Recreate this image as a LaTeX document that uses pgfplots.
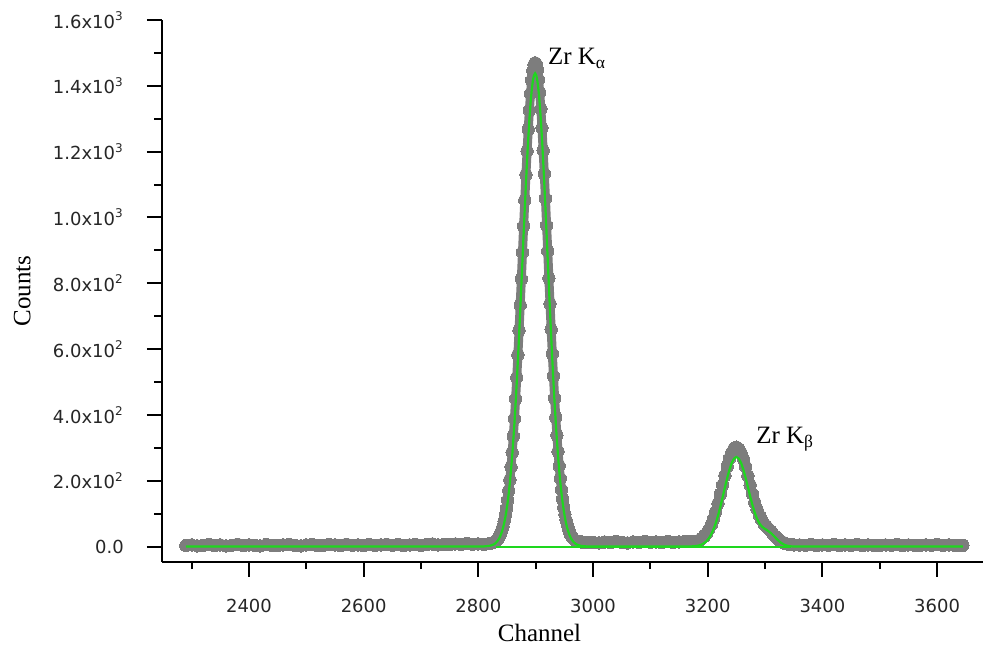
\documentclass[border=0pt]{standalone}
\usepackage{fontspec}
\setmainfont{Liberation Serif}
\newfontfamily\tickfont{DejaVu Sans}
\usepackage{pgfplots}
\usepackage{pgfplotstable}
\pgfplotsset{compat=1.18}

\definecolor{dotgray}{RGB}{125,125,125}
\definecolor{fitgreen}{RGB}{30,215,30}

% channel, measured counts, fitted counts
\pgfplotstableread{
ch cnt fit
2290 3 0
2300 5 0
2310 2 0
2320 4 0
2330 6 0
2340 3 0
2350 5 0
2360 2 0
2370 4 0
2380 7 0
2390 3 0
2400 5 0
2410 4 0
2420 2 0
2430 6 0
2440 4 0
2450 3 0
2460 5 0
2470 7 0
2480 4 0
2490 2 0
2500 5 0
2510 6 0
2520 3 0
2530 4 0
2540 6 0
2550 5 0
2560 3 0
2570 7 0
2580 4 0
2590 5 0
2600 3 0
2610 6 0
2620 4 0
2630 5 0
2640 7 0
2650 4 0
2660 6 0
2670 3 0
2680 5 0
2690 7 0
2700 4 0
2710 6 0
2720 8 0
2730 5 0
2740 7 0
2750 6 0
2760 8 0
2770 6 0
2780 9 0
2790 7 0
2800 8 0
2810 7 0.4
2820 9 2.3
2828 14 7.2
2833 21 16.0
2835 26 20.9
2837 33 27.1
2839 41 34.9
2841 50 44.6
2843 62 56.4
2845 77 70.7
2847 95 88.0
2849 116 108.7
2851 141 133.2
2853 170 161.6
2855 203 194.6
2857 242 232.5
2859 286 275.4
2861 335 323.6
2863 389 377.0
2865 449 435.7
2867 514 499.3
2869 583 567.4
2871 657 639.8
2873 734 715.3
2875 813 793.2
2877 894 872.1
2879 974 951.2
2881 1053 1028.9
2883 1130 1103.8
2885 1202 1174.4
2887 1268 1239.3
2889 1326 1296.9
2891 1376 1346.0
2893 1417 1385.5
2895 1446 1414.4
2897 1464 1432.1
2899 1470 1438
2901 1466 1432.1
2903 1447 1414.4
2905 1419 1385.5
2907 1380 1346.0
2909 1330 1296.9
2911 1272 1239.3
2913 1204 1174.4
2915 1133 1103.8
2917 1058 1028.9
2919 976 951.2
2921 898 872.1
2923 815 793.2
2925 738 715.3
2927 660 639.8
2929 586 567.4
2931 518 499.3
2933 451 435.7
2935 393 377.0
2937 338 323.6
2939 289 275.4
2941 245 232.5
2943 207 194.6
2945 173 161.6
2947 144 133.2
2949 119 108.7
2951 98 88.0
2953 81 70.7
2955 66 56.4
2957 54 44.6
2959 44 34.9
2961 36 27.1
2963 30 20.9
2965 25 16.0
2969 19 9.1
2973 16 5.0
2977 15 2.7
2982 13 1.2
2990 12 0.3
3000 13 0
3010 11 0
3020 14 0
3030 12 0
3040 15 0
3050 13 0
3060 11 0
3070 14 0
3080 12 0
3090 15 0
3100 13 0
3110 14 0
3120 12 0
3130 15 0
3140 13 0
3150 14 0
3160 16 0.1
3170 15 0.5
3174 15 0.7
3178 16 1.3
3182 17 2.3
3186 20 3.9
3190 25 6.6
3194 31 10.7
3198 40 16.6
3202 52 25.2
3206 65 36.8
3210 84 52.1
3214 106 71.3
3218 131 94.4
3222 159 121.0
3226 187 150.0
3230 216 179.9
3234 244 208.8
3238 268 234.4
3242 286 254.6
3246 298 267.5
3250 302 272
3254 297 267.5
3258 285 254.7
3262 267 234.7
3266 243 209.4
3270 215 181.2
3274 187 152.6
3278 160 125.9
3282 134 102.7
3286 113 84.3
3290 95 70.8
3294 81 61.7
3298 70 55.8
3302 62 51.2
3306 54 46.7
3310 47 41.2
3314 38 34.5
3318 31 27.2
3322 24 20.0
3326 18 13.7
3330 14 8.7
3334 10 5.1
3338 8 2.6
3342 6 1.3
3346 6 0.6
3350 5 0.3
3360 5 0
3370 4 0
3380 6 0
3390 3 0
3400 5 0
3410 4 0
3420 6 0
3430 3 0
3440 5 0
3450 4 0
3460 6 0
3470 3 0
3480 5 0
3490 4 0
3500 3 0
3510 5 0
3520 4 0
3530 6 0
3540 3 0
3550 5 0
3560 4 0
3570 3 0
3580 5 0
3590 4 0
3600 6 0
3610 3 0
3620 5 0
3630 4 0
3640 3 0
3645 4 0
}\spectrum

\begin{document}
\begin{tikzpicture}
\begin{axis}[
  scale only axis,
  width=411pt, height=271pt,
  xmin=2248, xmax=3680,
  ymin=-45.5, ymax=1600,
  clip marker paths=true,
  axis x line*=bottom,
  axis y line*=left,
  axis line style={line width=1pt, black},
  tick style={line width=1pt, black},
  tick align=outside,
  major tick length=7.5pt,
  minor tick length=3.75pt,
  xtick={2400,2600,...,3600},
  xticklabels={2400,2600,2800,3000,3200,3400,3600},
  minor xtick={2300,2500,...,3500},
  ytick={0,200,...,1600},
  yticklabels={0.0,
    2.0x10\textsuperscript{2},4.0x10\textsuperscript{2},
    6.0x10\textsuperscript{2},8.0x10\textsuperscript{2},
    1.0x10\textsuperscript{3},1.2x10\textsuperscript{3},
    1.4x10\textsuperscript{3},1.6x10\textsuperscript{3}},
  minor ytick={100,300,...,1500},
  ticklabel style={font=\fontsize{9}{10}\selectfont\tickfont, text=black!85},
  xticklabel shift=8pt,
  yticklabel shift=8pt,
  xlabel={Channel},
  ylabel={Counts},
  label style={font=\fontsize{12.5}{14}\selectfont},
  xlabel style={at={(axis description cs:0.46,-0.131)}, anchor=center},
  ylabel style={at={(axis description cs:-0.170,0.5)}, anchor=center},
]
\addplot[color=dotgray, line width=4.5pt, line join=round, line cap=round,
  mark=*, mark size=3.1pt, mark options={line width=0pt, fill=dotgray}]
  table[x=ch, y=cnt] {\spectrum};
\addplot[color=fitgreen, line width=1.1pt, no marks] table[x=ch, y=fit] {\spectrum};
\addplot[color=fitgreen, line width=1pt, no marks] coordinates {(2830,0) (3345,0)};

\node[anchor=base west, inner sep=0pt, font=\fontsize{12.5}{14}\selectfont]
  at (axis cs:2921,1465) {Zr K\textsubscript{α}};
\node[anchor=base west, inner sep=0pt, font=\fontsize{12.5}{14}\selectfont]
  at (axis cs:3284,313) {Zr K\textsubscript{β}};

\coordinate (bbl) at (axis description cs:-0.197,-0.155);
\coordinate (btr) at (axis description cs:1.0,1.037);
\end{axis}
\path (bbl) rectangle (btr);
\end{tikzpicture}
\end{document}
